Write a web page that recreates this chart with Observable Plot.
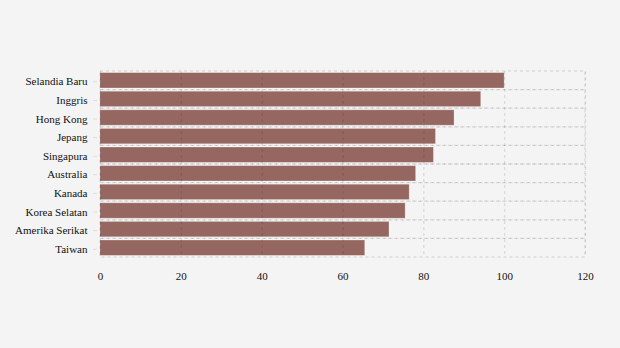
<!DOCTYPE html>
<html>
<head>
<meta charset="utf-8">
<script src="https://cdn.jsdelivr.net/npm/d3@7"></script>
<script src="https://cdn.jsdelivr.net/npm/@observablehq/plot@0.6"></script>
<style>
  html, body { margin: 0; padding: 0; background: #f4f4f4; }
  svg { display: block; }
  #chart svg, #chart svg text { font-family: "Liberation Serif", "DejaVu Serif", serif !important; font-size: 11px !important; }
</style>
</head>
<body>
<div id="chart"></div>
<script>
const countries = ["Selandia Baru", "Inggris", "Hong Kong", "Jepang", "Singapura", "Australia", "Kanada", "Korea Selatan", "Amerika Serikat", "Taiwan"];
const values = [100, 94.2, 87.6, 83.0, 82.5, 78.1, 76.5, 75.5, 71.5, 65.5];
const xTicks = [0, 20, 40, 60, 80, 100, 120];

const data = countries.map((c, i) => ({country: c, value: values[i]}));

const chart = Plot.plot({
  width: 620,
  height: 348,
  marginLeft: 100,
  marginRight: 35,
  marginTop: 71,
  marginBottom: 91,
  x: {domain: [0, 120], round: false},
  y: {domain: countries, padding: 0, round: false},
  style: {background: "#f4f4f4", color: "#111"},
  marks: [
    Plot.barX(data, {y: "country", x: "value", fill: "#956760", insetTop: 1.6, insetBottom: 1.6, stroke: "#ffffff", strokeOpacity: 0.35, strokeWidth: 0.8}),
    Plot.barX(data, {y: "country", x1: 0, x2: 120, fill: "none", stroke: "#000", strokeOpacity: 0.1, strokeWidth: 1.3, strokeDasharray: "3,3"}),
    Plot.ruleX(xTicks, {stroke: "#000", strokeOpacity: 0.1, strokeWidth: 1.3, strokeDasharray: "3,3"}),
    Plot.axisX({ticks: xTicks, tickSize: 0, tickPadding: 15, label: null, fill: "#111"}),
    Plot.axisY({tickSize: 4, tickPadding: 6, dx: -3, dy: 1, label: null, stroke: "#ddd", fill: "#111"})
  ]
});
document.getElementById("chart").appendChild(chart);
</script>
</body>
</html>
